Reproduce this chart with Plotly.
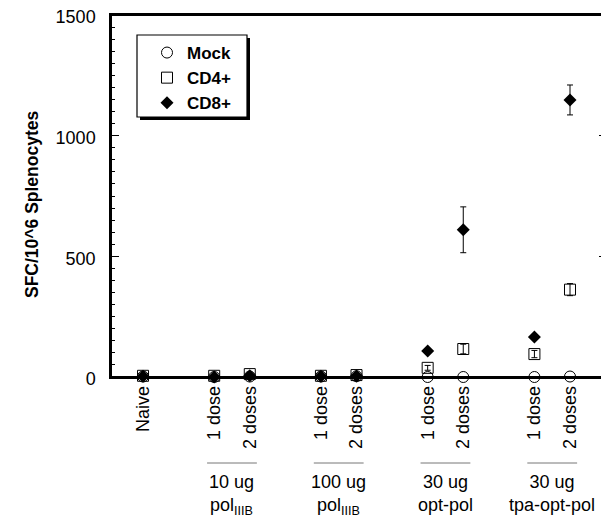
import plotly.graph_objects as go

# ---- data ----
categories = ["Naive", "1 dose", "2 doses", "1 dose", "2 doses",
              "1 dose", "2 doses", "1 dose", "2 doses"]
x_pos = [0, 2, 3, 5, 6, 8, 9, 11, 12]
mock = [2, 0, 2, 2, 3, 0, 0, 0, 2]
mock_err = [0, 0, 0, 0, 0, 0, 0, 0, 0]
cd4 = [5, 5, 12, 5, 8, 38, 116, 95, 362]
cd4_err = [0, 0, 0, 0, 0, 10, 20, 15, 25]
cd8 = [3, 0, 5, 3, 4, 108, 610, 166, 1148]
cd8_err = [0, 0, 0, 0, 0, 0, 95, 0, 62]
group_labels = ["10 ug<br>pol<sub>IIIB</sub>", "100 ug<br>pol<sub>IIIB</sub>",
                "30 ug<br>opt-pol", "30 ug<br>tpa-opt-pol"]
group_pairs = [(2, 3), (5, 6), (8, 9), (11, 12)]

FONT = "Liberation Sans, Arial, sans-serif"

# page offset of the plot div (default body margin)
OFF = 8
# plot area in page pixels
L, R, T, B = 111, 607, 15, 377
PW, PH = 609, 522
W, H = PW - OFF, PH - OFF


def px(xp):
    return (xp - L) / (R - L)


def py(yp):
    return (B - yp) / (B - T)


fig = go.Figure()

fig.add_trace(go.Scatter(
    x=x_pos, y=mock, mode="markers", name="Mock",
    marker=dict(symbol="circle-open", size=11, color="black", line=dict(width=1, color="black")),
    error_y=dict(type="data", array=mock_err, visible=True, color="black", thickness=1, width=3),
    cliponaxis=False))
fig.add_trace(go.Scatter(
    x=x_pos, y=cd4, mode="markers", name="CD4+",
    marker=dict(symbol="square-open", size=11, color="black", line=dict(width=1, color="black")),
    error_y=dict(type="data", array=cd4_err, visible=True, color="black", thickness=1, width=3),
    cliponaxis=False))
fig.add_trace(go.Scatter(
    x=x_pos, y=cd8, mode="markers", name="CD8+",
    marker=dict(symbol="diamond", size=10, color="black"),
    error_y=dict(type="data", array=cd8_err, visible=True, color="black", thickness=1, width=3),
    cliponaxis=False))

shapes = []
# legend shadow and box
shapes.append(dict(type="rect", xref="paper", yref="paper",
                   x0=px(140), x1=px(250), y0=py(120), y1=py(38),
                   fillcolor="black", line=dict(width=0), layer="above"))
shapes.append(dict(type="rect", xref="paper", yref="paper",
                   x0=px(137), x1=px(247), y0=py(117), y1=py(35),
                   fillcolor="white", line=dict(color="black", width=1.2), layer="above"))
# plot frame
shapes.append(dict(type="rect", xref="paper", yref="paper", x0=0, x1=1, y0=0, y1=1,
                   line=dict(color="black", width=2), fillcolor="rgba(0,0,0,0)", layer="above"))

annotations = []
for (a, b), lab in zip(group_pairs, group_labels):
    shapes.append(dict(type="line", xref="x", yref="paper",
                       x0=a - 0.2, x1=b + 0.2, y0=py(463), y1=py(463),
                       line=dict(color="#777777", width=1)))
    annotations.append(dict(x=(a + b) / 2, y=py(470), xref="x", yref="paper",
                            text=lab, showarrow=False, xanchor="center", yanchor="top",
                            font=dict(family=FONT, size=18, color="black"), align="center"))

annotations.append(dict(x=px(32), y=py(204), xref="paper", yref="paper",
                        text="<b>SFC/10^6 Splenocytes</b>", showarrow=False, textangle=-90,
                        xanchor="center", yanchor="middle",
                        font=dict(family=FONT, size=17.5, color="black")))

fig.update_layout(
    template="none",
    width=W, height=H,
    margin=dict(l=L - OFF, r=PW - R, t=T - OFF, b=PH - B, pad=0, autoexpand=False),
    paper_bgcolor="white", plot_bgcolor="white",
    font=dict(family=FONT, size=18, color="black"),
    showlegend=True,
    legend=dict(x=px(147), y=py(35), xanchor="left", yanchor="top",
                bgcolor="rgba(0,0,0,0)", borderwidth=0,
                font=dict(family=FONT, size=17, color="black", weight="bold"),
                tracegroupgap=0, itemwidth=30),
    shapes=shapes, annotations=annotations,
    xaxis=dict(range=[-0.9, 13.04], tickvals=x_pos, ticktext=categories,
               tickangle=-90, showgrid=False, zeroline=False, automargin=False,
               showline=True, linecolor="black", linewidth=1.5, mirror=True,
               ticks="", tickfont=dict(family=FONT, size=18, color="black")),
    yaxis=dict(range=[0, 1500], tickvals=[0, 500, 1000, 1500],
               showgrid=False, zeroline=False, automargin=False,
               ticklabeloverflow="allow", ticklabelshift=2,
               showline=True, linecolor="black", linewidth=1.5, mirror="ticks",
               ticks="inside", ticklen=8, tickwidth=1.2, tickcolor="black",
               minor=dict(dtick=50, ticks="inside", ticklen=4, tickwidth=1, tickcolor="black",
                          showgrid=False),
               ticklabelstandoff=10,
               tickfont=dict(family=FONT, size=18, color="black")),
)

fig.write_html("out.html")
